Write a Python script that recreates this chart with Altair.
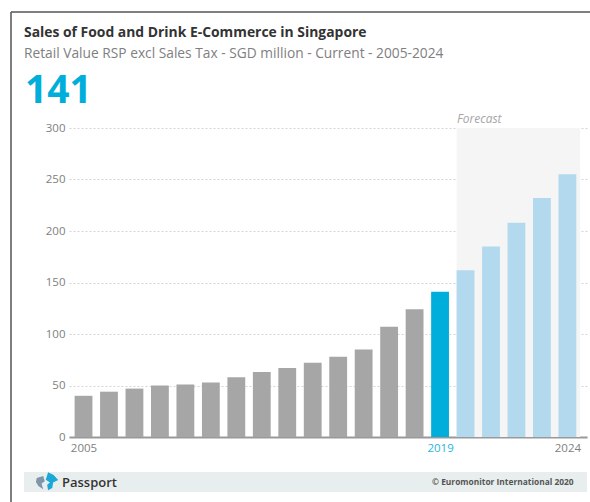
import altair as alt
import pandas as pd

years = list(range(2005, 2025))
sales = [40, 44, 47, 50, 51, 53, 58, 63, 67, 72, 78, 85, 107, 124, 141, 162, 185, 208, 232, 255]
periods = ["history"] * 14 + ["current"] + ["forecast"] * 5
period_names = ["history", "current", "forecast"]
period_colors = ["#a6a6a6", "#00aedb", "#b3d9ee"]
axis_years = [2005, 2019, 2024]
value_ticks = [0, 50, 100, 150, 200, 250, 300]

FONT = "Open Sans"
LEFT, TOP = 69, 128
WIDTH, HEIGHT = 518, 309

df = pd.DataFrame({"year": years, "sales": sales, "period": periods})
df["start"] = df["year"] - 0.35
df["end"] = df["year"] + 0.35

x_scale = alt.Scale(domain=[2004.43, 2024.77], nice=False, zero=False)
y_scale = alt.Scale(domain=[0, 300], nice=False)

x_axis = alt.Axis(
    values=axis_years,
    format="d",
    grid=False,
    ticks=False,
    domainColor="#999999",
    domainWidth=2,
    labelFont=FONT,
    labelFontSize=11.5,
    labelPadding=5,
    labelColor=alt.ExprRef("datum.value == 2019 ? '#29b5dc' : '#808080'"),
)


def label(text, px, py, **style):
    """Single text placed by page position."""
    frame = pd.DataFrame({"label": [text]})
    return alt.Chart(frame).mark_text(font=FONT, align="left", baseline="alphabetic", **style).encode(
        x=alt.value(px - LEFT), y=alt.value(py - TOP), text="label:N"
    )


def one_row():
    return alt.Chart(pd.DataFrame({"n": [0]}))


# Forecast background band, behind the grid and bars
band = alt.Chart(pd.DataFrame({"a": [2019.65], "b": [2024.5]})).mark_rect(color="#f5f5f5").encode(
    x=alt.X("a:Q", scale=x_scale, axis=x_axis, title=None), x2="b:Q"
)

# Bars and the value axis
bars = alt.Chart(df).mark_rect().encode(
    x=alt.X("start:Q", scale=x_scale, axis=x_axis, title=None),
    x2="end:Q",
    y=alt.Y(
        "sales:Q",
        scale=y_scale,
        title=None,
        axis=alt.Axis(
            values=value_ticks,
            grid=True,
            gridColor="#d4d4d4",
            gridDash=[2, 2],
            gridWidth=1,
            domain=False,
            ticks=False,
            labelFont=FONT,
            labelFontSize=11.5,
            labelPadding=4,
            labelColor="#808080",
        ),
    ),
    color=alt.Color(
        "period:N",
        scale=alt.Scale(domain=period_names, range=period_colors),
        legend=None,
    ),
)

# Outer frame: top and left edges only
frame_top = one_row().mark_rule(color="#555555", strokeWidth=1.5).encode(
    x=alt.value(11 - LEFT), x2=alt.value(590 - LEFT), y=alt.value(12 - TOP)
)
frame_left = one_row().mark_rule(color="#555555", strokeWidth=1.5).encode(
    x=alt.value(11 - LEFT), y=alt.value(12 - TOP), y2=alt.value(502 - TOP)
)

# Footer strip and its globe logo
footer = one_row().mark_rect(color="#e8eeee").encode(
    x=alt.value(24 - LEFT), x2=alt.value(587 - LEFT),
    y=alt.value(472 - TOP), y2=alt.value(492 - TOP),
)
logo_blue = one_row().mark_point(
    shape="M -0.1 -1 L 0.5 -0.7 L 1 -0.15 L 0.45 0.1 L 0.35 0.7 L -0.1 0.95 L -0.2 0.35 L 0.1 0.1 L -0.35 -0.2 Z",
    size=340, filled=True, opacity=1, color="#1ba8d8",
).encode(x=alt.value(49 - LEFT), y=alt.value(481.5 - TOP))
logo_grey = one_row().mark_point(
    shape="M -0.9 -0.5 L -0.1 -0.75 L 0.1 -0.1 L -0.3 0.2 L -0.1 0.9 L -0.7 0.5 L -1 0 Z",
    size=260, filled=True, opacity=1, color="#7d96a8",
).encode(x=alt.value(44 - LEFT), y=alt.value(482 - TOP))

chart = alt.layer(
    band,
    bars,
    frame_top,
    frame_left,
    footer,
    logo_grey,
    logo_blue,
    label("Sales of Food and Drink E-Commerce in Singapore", 24, 37, fontSize=13.9, fontWeight="bold", color="#333333"),
    label("Retail Value RSP excl Sales Tax - SGD million - Current - 2005-2024", 24, 58, fontSize=13.75, color="#808080"),
    label("141", 25, 103, fontSize=39, fontWeight="bold", color="#00aedb"),
    label("Forecast", 457, 123, fontSize=12, fontStyle="italic", color="#a6a6a6"),
    label("Passport", 62, 487, fontSize=13, fontWeight=600, color="#333333"),
    label("© Euromonitor International 2020", 432, 485, fontSize=8.4, fontWeight="bold", color="#555555"),
).resolve_scale(
    x="shared", y="shared"
).properties(
    width=WIDTH,
    height=HEIGHT,
    padding={"left": LEFT, "top": TOP, "right": 590 - LEFT - WIDTH, "bottom": 502 - TOP - HEIGHT},
    autosize=alt.AutoSizeParams(type="none", contains="content"),
    background="white",
).configure_view(stroke=None)

chart.save("out.html", embed_options={"renderer": "svg", "actions": False})
